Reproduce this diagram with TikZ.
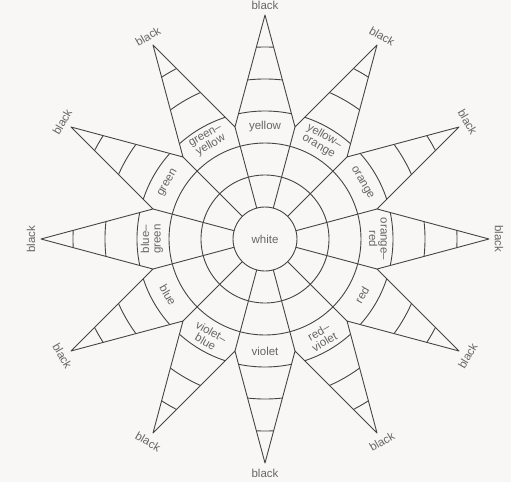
\documentclass[tikz,border=0pt]{standalone}
\usepackage{fontspec}
\setmainfont{Liberation Sans}
\definecolor{ink}{rgb}{0.27,0.27,0.27}
\definecolor{txt}{rgb}{0.40,0.40,0.40}
\definecolor{paper}{rgb}{0.975,0.97,0.96}
\begin{document}
\begin{tikzpicture}[x=1pt,y=1pt,
  line/.style={draw=ink,line width=0.9pt,line join=round},
  lab/.style={text=txt,font=\fontsize{11.5}{11.5}\selectfont,align=center,inner sep=0pt},
]
\fill[paper] (-265,-243) rectangle (246,239);
\useasboundingbox (-265,-243) rectangle (246,239);

% shade bands inside the spikes
\begin{scope}
  \clip (-15:116) \foreach \i in {0,...,11}{ -- (\i*30:224) -- (\i*30+15:116) } -- cycle;
  \foreach \r in {128,160,192} \draw[line] (0,0) circle (\r);
\end{scope}

% star outline
\draw[line] (-15:116) \foreach \i in {0,...,11}{ -- (\i*30:224) -- (\i*30+15:116) } -- cycle;

% inner circles
\foreach \r in {32,64,96} \draw[line] (0,0) circle (\r);

% radial dividers
\foreach \k in {0,...,11} \draw[line] (\k*30+15:32) -- (\k*30+15:116);

% hue labels
\node[lab] (white) at (0,0) {white};
\node[lab,rotate=-90] (c0)  at (0:113)   {orange--\\red};
\node[lab,rotate=-60] (c1)  at (30:112)  {orange};
\node[lab,rotate=-30] (c2)  at (60:113)  {yellow--\\orange};
\node[lab,rotate=0]   (c3)  at (90:112)  {yellow};
\node[lab,rotate=30]  (c4)  at (120:113) {green--\\yellow};
\node[lab,rotate=60]  (c5)  at (150:112) {green};
\node[lab,rotate=90]  (c6)  at (180:113) {blue--\\green};
\node[lab,rotate=-60] (c7)  at (210:112) {blue};
\node[lab,rotate=-30] (c8)  at (240:113) {violet--\\blue};
\node[lab,rotate=0]   (c9)  at (270:112) {violet};
\node[lab,rotate=30]  (c10) at (300:113) {red--\\violet};
\node[lab,rotate=60]  (c11) at (330:112) {red};

% black tips
\foreach \i/\rot in {0/-90,1/-60,2/-30,3/0,4/30,5/60,6/90,7/-60,8/-30,9/0,10/30,11/60}
  \node[lab,rotate=\rot] (b\i) at (\i*30:234) {black};
\end{tikzpicture}
\end{document}
